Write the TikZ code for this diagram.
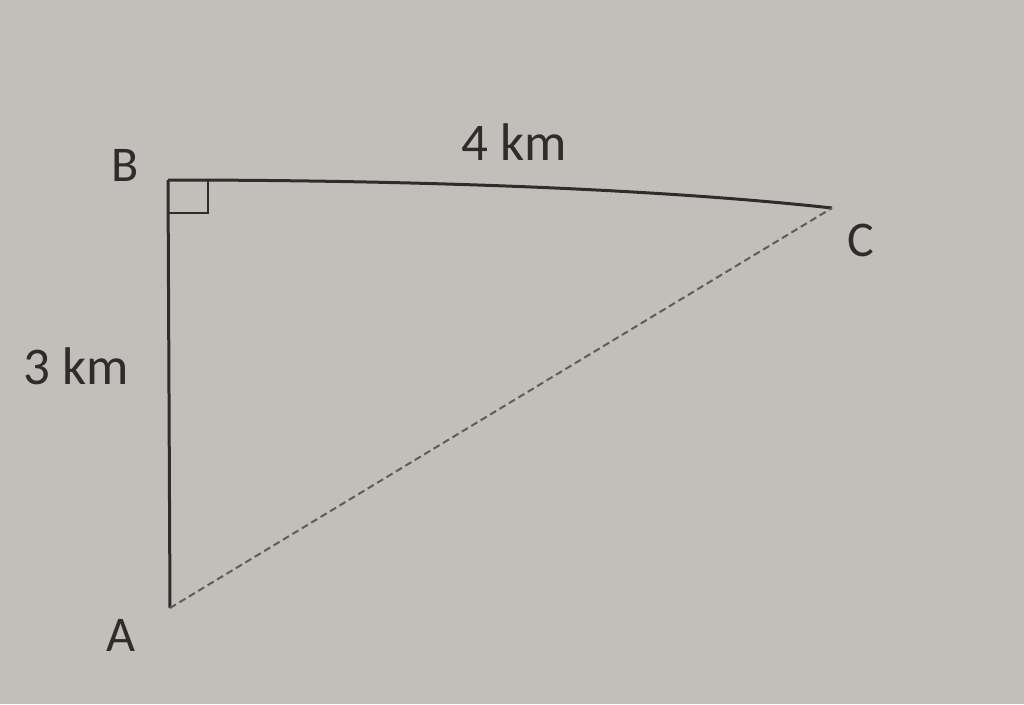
\documentclass[tikz,border=0pt]{standalone}
\usepackage{fontspec}
\setmainfont{Carlito}
\definecolor{paper}{RGB}{194,191,187}
\definecolor{ink}{RGB}{48,44,44}
\definecolor{dashink}{RGB}{95,92,90}
\tikzset{
  side/.style={draw=ink, line width=3pt},
  hyp/.style={draw=dashink, line width=2pt, dash pattern=on 7pt off 4pt},
  lbl/.style={text=ink, font=\fontsize{53}{60}\selectfont, inner sep=0pt},
  vlbl/.style={text=ink, font=\fontsize{50}{58}\selectfont, inner sep=0pt}
}
\begin{document}
\begin{tikzpicture}[x=1pt,y=-1pt]
\fill[paper] (0,0) rectangle (1024,704);
\useasboundingbox (0,0) rectangle (1024,704);
\coordinate (B) at (168,180);
\coordinate (A) at (170,608);
\coordinate (C) at (832,208);
\draw[side] (A) -- (B);
\draw[side] (B) .. controls (400,180) and (650,188) .. (C);
\draw[hyp] (A) -- (C);
\draw[side, line width=2.4pt] (168,213) -- (208,213) -- (208,181);
\node[vlbl] (lB) at (125,165) {B};
\node[vlbl] (lC) at (861,240) {C};
\node[vlbl] (lA) at (121,635) {A};
\node[lbl] (l3) at (76,366) {3 km};
\node[lbl] (l4) at (514,142) {4 km};
\end{tikzpicture}
\end{document}
